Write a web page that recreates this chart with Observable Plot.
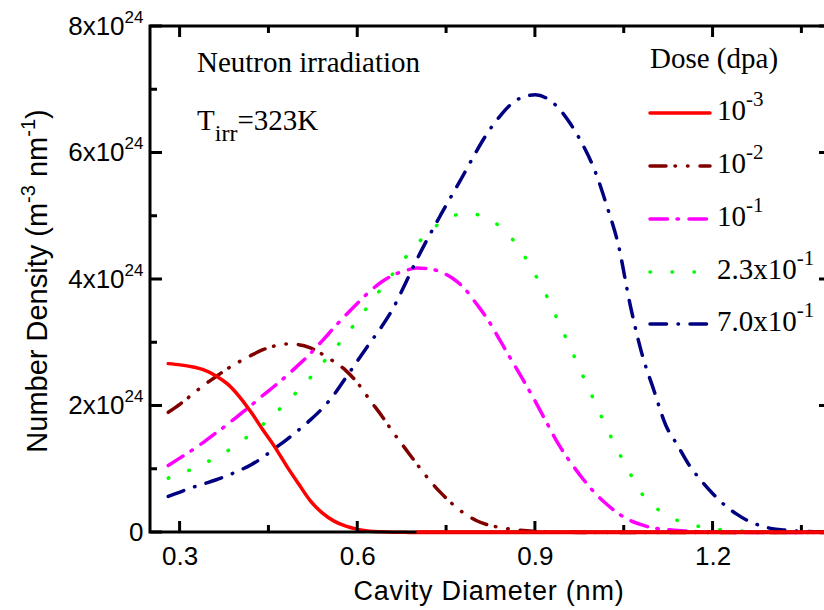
<!DOCTYPE html>
<html><head><meta charset="utf-8">
<script src="https://cdn.jsdelivr.net/npm/d3@7"></script>
<script src="https://cdn.jsdelivr.net/npm/@observablehq/plot@0.6"></script>
<style>
html,body{margin:0;padding:0;background:#fff;overflow:hidden;}
#chart{width:824px;height:610px;overflow:hidden;position:relative;}
#chart > svg{display:block;max-width:none !important;height:610px !important;}
</style></head><body><div id="chart"></div>
<script>
// Cavity diameter grid (nm)
const diameter = [0.28,0.30,0.32,0.34,0.36,0.38,0.40,0.42,0.44,0.46,0.48,0.50,0.52,0.54,0.56,0.58,0.60,0.62,0.64,0.66,0.68,0.70,0.72,0.74,0.76,0.78,0.80,0.82,0.84,0.86,0.88,0.90,0.92,0.94,0.96,0.98,1.00,1.02,1.04,1.06,1.08,1.10,1.12,1.14,1.16,1.18,1.20,1.22,1.24,1.26,1.28,1.30,1.32,1.34,1.36,1.38,1.40];
// Number density (x10^24 m^-3 nm^-1) per dose
const dose1e3 = [2.67,2.65,2.62,2.57,2.48,2.35,2.15,1.90,1.62,1.35,1.05,0.77,0.50,0.31,0.18,0.10,0.05,0.02,0.01,0.004,0.002,0,0,0,0,0,0,0,0,0,0,0,0,0,0,0,0,0,0,0,0,0,0,0,0,0,0,0,0,0,0,0,0,0,0,0,0];
const dose1e2 = [1.90,2.03,2.18,2.33,2.46,2.59,2.70,2.80,2.89,2.95,2.98,2.97,2.92,2.82,2.70,2.56,2.36,2.10,1.85,1.58,1.33,1.08,0.84,0.63,0.45,0.30,0.19,0.12,0.08,0.05,0.03,0.015,0.008,0.004,0.002,0.001,0,0,0,0,0,0,0,0,0,0,0,0,0,0,0,0,0,0,0,0,0];
const dose1e1 = [1.06,1.18,1.30,1.43,1.57,1.71,1.86,2.01,2.17,2.32,2.48,2.65,2.83,3.03,3.24,3.44,3.63,3.81,3.96,4.07,4.14,4.18,4.17,4.12,4.02,3.86,3.62,3.36,3.04,2.72,2.40,2.07,1.72,1.38,1.10,0.85,0.63,0.45,0.30,0.19,0.12,0.07,0.05,0.03,0.02,0.01,0.005,0.003,0.001,0,0,0,0,0,0,0,0];
const dose23e1 = [0.86,0.93,1.00,1.09,1.18,1.29,1.42,1.56,1.71,1.88,2.06,2.25,2.45,2.67,2.89,3.12,3.36,3.61,3.86,4.10,4.34,4.56,4.75,4.90,5.00,5.05,5.03,4.96,4.84,4.65,4.39,4.07,3.72,3.31,2.90,2.48,2.07,1.66,1.28,0.93,0.61,0.42,0.28,0.19,0.13,0.09,0.06,0.04,0.03,0.02,0.015,0.01,0.007,0.004,0.002,0.001,0];
const dose70e1 = [0.57,0.64,0.71,0.77,0.83,0.90,0.98,1.07,1.19,1.33,1.47,1.62,1.78,1.96,2.18,2.45,2.72,2.99,3.25,3.55,3.93,4.32,4.68,5.02,5.35,5.68,6.02,6.33,6.58,6.78,6.89,6.92,6.86,6.70,6.45,6.13,5.73,5.18,4.55,3.60,2.82,2.25,1.70,1.38,1.06,0.82,0.61,0.43,0.29,0.18,0.11,0.06,0.04,0.025,0.015,0.008,0.005];

const seriesLabels = [["10","-3"],["10","-2"],["10","-1"],["2.3x10","-1"],["7.0x10","-1"]];
const seriesValues = [dose1e3, dose1e2, dose1e1, dose23e1, dose70e1];
const seriesColors = ["#ff0000","#800000","#ff00ff","#00ff00","#000080"];
const seriesDash = [null, "16,9,0.5,12,0.5,12", "17.5,9.5,1.5,10.5", "0.5,21.5", "16.5,11.5,0.5,11.5"];

const xDomain = [0.25, 1.4];
const yDomain = [0, 8];
const xMajorTicks = [0.3, 0.6, 0.9, 1.2];
const xMinorTicks = [0.45, 0.75, 1.05, 1.35];
const yMajorTicks = [0, 2, 4, 6, 8];
const yMinorTicks = [1, 3, 5, 7];

const SANS = "'Liberation Sans', Arial, sans-serif";
const SERIF = "'Liberation Serif', 'Times New Roman', serif";

const rows = seriesValues.map((vals, k) => diameter.map((d, i) => ({d, v: vals[i], k})));
const drawOrder = [1, 2, 3, 4, 0];

const chart = Plot.plot({
  width: 831, height: 610,
  marginLeft: 150, marginRight: 0, marginTop: 26, marginBottom: 78,
  style: {background: "white", color: "black", overflow: "visible", fontFamily: SANS},
  x: {domain: xDomain},
  y: {domain: yDomain},
  marks: [
    ...drawOrder.map(k => Plot.line(rows[k], {
      x: "d", y: "v", stroke: seriesColors[k], strokeWidth: 3.5,
      strokeDasharray: seriesDash[k], strokeLinecap: "round", strokeLinejoin: "round",
      curve: "monotone-x"
    })),
    Plot.axisX({anchor: "bottom", ticks: xMajorTicks, tickSize: 0, tickPadding: 14.5, fontSize: 26, fontFamily: SANS, label: null, tickFormat: d => d.toFixed(1)}),
    Plot.axisY({anchor: "left", ticks: yMajorTicks, tickSize: 0, tickPadding: 7, fontSize: 26, fontFamily: SANS, label: null, tickFormat: d => d === 0 ? "0" : `${d}x10^24`})
  ]
});
document.getElementById("chart").appendChild(chart);

const svg = d3.select(chart);
const X = chart.scale("x"), Y = chart.scale("y");

// superscripts in y tick labels
svg.selectAll('g[aria-label="y-axis tick label"] text').each(function() {
  const t = this.textContent;
  if (t.includes("^")) {
    const [a, b] = t.split("^");
    const s = d3.select(this);
    s.text(null);
    s.append("tspan").text(a);
    s.append("tspan").attr("dy", -12).attr("font-size", 17).text(b);
  }
});

const ann = svg.append("g").attr("text-anchor", "start");
// x axis title
ann.append("text").attr("x", 489).attr("y", 600).attr("text-anchor", "middle")
  .attr("font-family", SANS).attr("font-size", 27).attr("letter-spacing", 0.8).attr("fill", "black")
  .text("Cavity Diameter (nm)");
// y axis title
const yt = ann.append("text").attr("transform", "translate(47,281) rotate(-90)").attr("text-anchor", "middle")
  .attr("font-family", SANS).attr("font-size", 29).attr("fill", "black");
yt.append("tspan").text("Number Density (m");
yt.append("tspan").attr("dy", -12).attr("font-size", 20).text("-3");
yt.append("tspan").attr("dy", 12).text(" nm");
yt.append("tspan").attr("dy", -12).attr("font-size", 20).text("-1");
yt.append("tspan").attr("dy", 12).text(")");

// annotations
ann.append("text").attr("x", 197).attr("y", 72).attr("font-family", SERIF).attr("font-size", 29).attr("fill", "black")
  .text("Neutron irradiation");
const tt = ann.append("text").attr("x", 197).attr("y", 130).attr("font-family", SERIF).attr("font-size", 29).attr("fill", "black");
tt.append("tspan").text("T");
tt.append("tspan").attr("dy", 11).attr("font-size", 24).text("irr");
tt.append("tspan").attr("dy", -11).text("=323K");

// legend
ann.append("text").attr("x", 650).attr("y", 68).attr("font-family", SERIF).attr("font-size", 29).attr("fill", "black")
  .text("Dose (dpa)");
const legendY = [113, 166, 219, 272, 324];
seriesLabels.forEach((lab, k) => {
  const y = legendY[k];
  ann.append("line").attr("x1", 650).attr("x2", 710).attr("y1", y).attr("y2", y)
    .attr("stroke", seriesColors[k]).attr("stroke-width", 3.5).attr("stroke-linecap", "round")
    .attr("stroke-dasharray", seriesDash[k]);
  const t = ann.append("text").attr("x", 717).attr("y", y + 7).attr("font-family", SERIF).attr("font-size", 29).attr("fill", "black");
  t.append("tspan").text(lab[0]);
  t.append("tspan").attr("dy", -14).attr("font-size", 21).text(lab[1]);
});

// frame and inward ticks on all four sides, placed with Plot's scales (drawn last)
const fr = svg.append("g").attr("stroke", "#000000").attr("stroke-width", 3).attr("fill", "none");
const xl = X.apply(xDomain[0]), xr = X.apply(xDomain[1]), yb = Y.apply(yDomain[0]), ytp = Y.apply(yDomain[1]);
fr.append("path").attr("d", `M${xl},${ytp}H${xr}V${yb}H${xl}Z`);
const tickX = (vals, len) => vals.forEach(v => {
  const x = X.apply(v);
  fr.append("path").attr("d", `M${x},${yb}V${yb - len}M${x},${ytp}V${ytp + len}`);
});
const tickY = (vals, len) => vals.forEach(v => {
  const y = Y.apply(v);
  fr.append("path").attr("d", `M${xl},${y}H${xl + len}M${xr},${y}H${xr - len}`);
});
tickX(xMajorTicks, 11); tickX(xMinorTicks, 7);
tickY(yMajorTicks, 12); tickY(yMinorTicks, 7);
// curve segments lying on the baseline sit above the axis, as in the reference
svg.append("path")
  .attr("d", `M${X.apply(0.7)},${yb}H${xr}`)
  .attr("stroke", seriesColors[0]).attr("stroke-width", 3.5);
</script>
</body></html>
